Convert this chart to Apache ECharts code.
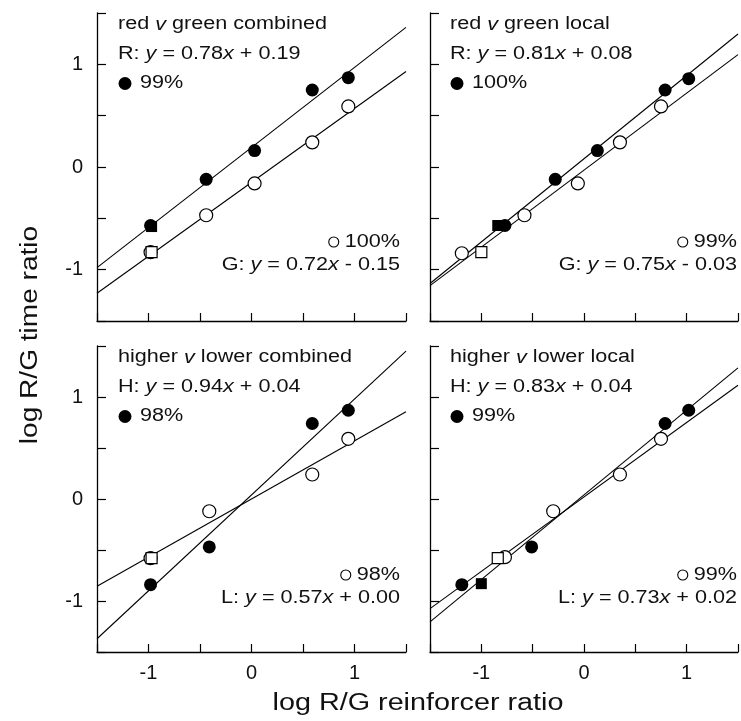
<!DOCTYPE html>
<html lang="en">
<head>
<meta charset="utf-8" />
<title>log R/G time ratio</title>
<style>
    html, body { margin: 0; padding: 0; background: #fff; }
    #main { width: 741px; height: 721px; }
</style>
</head>
<body>
<div id="main"></div>
<script src="https://cdn.jsdelivr.net/npm/echarts@6/dist/echarts.min.js"></script>
<script type="text/javascript">
// 刻度标签（只在整数处显示）
var tickLabels = [-1, 0, 1];

// 四个面板的标题、拟合线名称、R²
var panelTitles = ['red {i|v} green combined', 'red {i|v} green local',
                   'higher {i|v} lower combined', 'higher {i|v} lower local'];
var lineNames = [['R', 'G'], ['R', 'G'], ['H', 'L'], ['H', 'L']];
var fitPercent = [[99, 100], [100, 99], [98, 98], [99, 99]];

// 拟合直线：斜率 / 截距
var slopes = [[0.78, 0.72], [0.81, 0.75], [0.94, 0.57], [0.83, 0.73]];
var intercepts = [[0.19, -0.15], [0.08, -0.03], [0.04, 0.00], [0.04, 0.02]];

// red v green combined
var rgcFilled = [[-0.98, -0.57], [-0.44, -0.12], [0.03, 0.16], [0.59, 0.75], [0.94, 0.87]];
var rgcOpen = [[-0.98, -0.83], [-0.44, -0.47], [0.03, -0.16], [0.59, 0.24], [0.94, 0.59]];
var rgcFilledSq = [[-0.97, -0.58]];
var rgcOpenSq = [[-0.97, -0.83]];

// red v green local
var rglFilled = [[-0.77, -0.57], [-0.28, -0.12], [0.13, 0.16], [0.79, 0.75], [1.02, 0.86]];
var rglOpen = [[-1.19, -0.84], [-0.58, -0.47], [-0.06, -0.16], [0.35, 0.24], [0.75, 0.59]];
var rglFilledSq = [[-0.84, -0.57]];
var rglOpenSq = [[-1.00, -0.83]];

// higher v lower combined
var hlcFilled = [[-0.98, -0.84], [-0.41, -0.47], [0.59, 0.74], [0.94, 0.87]];
var hlcOpen = [[-0.98, -0.58], [-0.41, -0.12], [0.59, 0.24], [0.94, 0.59]];
var hlcFilledSq = [];
var hlcOpenSq = [[-0.97, -0.58]];

// higher v lower local
var hllFilled = [[-1.19, -0.84], [-0.51, -0.47], [0.79, 0.74], [1.02, 0.87]];
var hllOpen = [[-0.77, -0.57], [-0.30, -0.12], [0.35, 0.24], [0.75, 0.59]];
var hllFilledSq = [[-1.00, -0.83]];
var hllOpenSq = [[-0.84, -0.58]];

var filledPts = [rgcFilled, rglFilled, hlcFilled, hllFilled];
var openPts = [rgcOpen, rglOpen, hlcOpen, hllOpen];
var filledSqPts = [rgcFilledSq, rglFilledSq, hlcFilledSq, hllFilledSq];
var openSqPts = [rgcOpenSq, rglOpenSq, hlcOpenSq, hllOpenSq];

var FONT = '"Liberation Sans", Arial, Helvetica, sans-serif';
var TXT = '#111';
var SX = 1.2;   // 原图字体偏宽
var FS = 18;

var grids = [
    {left: 97, top: 13, width: 309, height: 308},
    {left: 430, top: 13, width: 308, height: 308},
    {left: 97, top: 346, width: 309, height: 306},
    {left: 430, top: 346, width: 308, height: 306}
];
var textLeft = [118, 450, 118, 450];
var textRight = [400, 737, 400, 737];

var measureCtx = document.createElement('canvas').getContext('2d');
function textWidth(s, size) {
    measureCtx.font = size + 'px ' + FONT;
    return measureCtx.measureText(s).width;
}

function intLabel(v) {
    return tickLabels.indexOf(Math.round(v * 100) / 100) >= 0 ? String(v) : '';
}

function eqText(name, a, b) {
    var sign = b < 0 ? '- ' : '+ ';
    return name + ': {i|y} = ' + a.toFixed(2) + '{i|x} ' + sign + Math.abs(b).toFixed(2);
}

function txt(x, y, s, align, size, sx, rot) {
    return {
        type: 'text', x: x, y: y, scaleX: sx || SX, rotation: rot || 0, z: 100,
        style: {
            text: s, fill: TXT, fontSize: size || FS, fontFamily: FONT,
            align: align, verticalAlign: 'middle',
            textAlign: align, textVerticalAlign: 'middle',
            rich: {i: {fontStyle: 'italic', fontSize: size || FS, fontFamily: FONT, fill: TXT}}
        }
    };
}

var xAxes = [], yAxes = [], series = [], graphics = [];
for (var i = 0; i < 4; i++) {
    var isBottom = i >= 2, isLeft = i % 2 === 0;
    xAxes.push({
        type: 'value', gridIndex: i, min: -1.5, max: 1.5, interval: 0.5,
        axisLine: {show: true, onZero: false, lineStyle: {color: '#000', width: 1.3}},
        axisTick: {show: true, inside: true, length: 8, lineStyle: {color: '#000', width: 1.2}},
        axisLabel: {show: isBottom, margin: 11, fontSize: 20, fontFamily: FONT, color: TXT,
                    formatter: intLabel, showMinLabel: true, showMaxLabel: true},
        splitLine: {show: false}
    });
    yAxes.push({
        type: 'value', gridIndex: i, min: -1.5, max: 1.5, interval: 0.5,
        axisLine: {show: true, onZero: false, lineStyle: {color: '#000', width: 1.3}},
        axisTick: {show: true, inside: true, length: 9, lineStyle: {color: '#000', width: 1.2}},
        axisLabel: {show: isLeft, margin: 14, fontSize: 20, fontFamily: FONT, color: TXT,
                    formatter: intLabel, showMinLabel: true, showMaxLabel: true},
        splitLine: {show: false}
    });

    // 拟合线
    for (var k = 0; k < 2; k++) {
        var a = slopes[i][k], b = intercepts[i][k];
        series.push({
            type: 'line', xAxisIndex: i, yAxisIndex: i, symbol: 'none', silent: true, z: 1,
            data: [[-1.5, a * -1.5 + b], [1.5, a * 1.5 + b]],
            lineStyle: {color: '#000', width: 1.1}
        });
    }
    series.push({
        type: 'scatter', xAxisIndex: i, yAxisIndex: i, symbol: 'circle', symbolSize: 13, z: 3,
        data: openPts[i], itemStyle: {color: '#fff', borderColor: '#000', borderWidth: 1.2, opacity: 1}
    });
    series.push({
        type: 'scatter', xAxisIndex: i, yAxisIndex: i, symbol: 'circle', symbolSize: 13, z: 3,
        data: filledPts[i], itemStyle: {color: '#000', opacity: 1}
    });
    series.push({
        type: 'scatter', xAxisIndex: i, yAxisIndex: i, symbol: 'rect', symbolSize: 11, z: 4,
        data: openSqPts[i], itemStyle: {color: '#fff', borderColor: '#000', borderWidth: 1.2, opacity: 1}
    });
    series.push({
        type: 'scatter', xAxisIndex: i, yAxisIndex: i, symbol: 'rect', symbolSize: 11, z: 4,
        data: filledSqPts[i], itemStyle: {color: '#000', opacity: 1}
    });

    // 面板内文字
    var T = grids[i].top, L = textLeft[i], R = textRight[i];
    graphics.push(txt(L, T + 11.5, panelTitles[i], 'left'));
    graphics.push(txt(L, T + 41, eqText(lineNames[i][0], slopes[i][0], intercepts[i][0]), 'left'));
    graphics.push({type: 'circle', z: 100, shape: {cx: L + 7, cy: T + 70.5, r: 6.5}, style: {fill: '#000'}});
    graphics.push(txt(L + 22, T + 70.5, fitPercent[i][0] + '%', 'left'));

    var pct = fitPercent[i][1] + '%';
    var w = textWidth(pct, FS) * SX;
    graphics.push({type: 'circle', z: 100, shape: {cx: R - w - 11, cy: T + 229, r: 5},
                   style: {fill: '#fff', stroke: '#000', lineWidth: 1.1}});
    graphics.push(txt(R, T + 229, pct, 'right'));
    graphics.push(txt(R, T + 252, eqText(lineNames[i][1], slopes[i][1], intercepts[i][1]), 'right'));
}

// 坐标轴标题
graphics.push(txt(418, 704, 'log R/G reinforcer ratio', 'center', 23, 1.25));
graphics.push(txt(31, 335, 'log R/G time ratio', 'center', 23, 1.22, Math.PI / 2));

var myChart = echarts.init(document.getElementById('main'));
myChart.setOption({
    animation: false,
    backgroundColor: '#fff',
    grid: grids,
    xAxis: xAxes,
    yAxis: yAxes,
    series: series,
    graphic: {elements: graphics}
});
</script>
</body>
</html>
